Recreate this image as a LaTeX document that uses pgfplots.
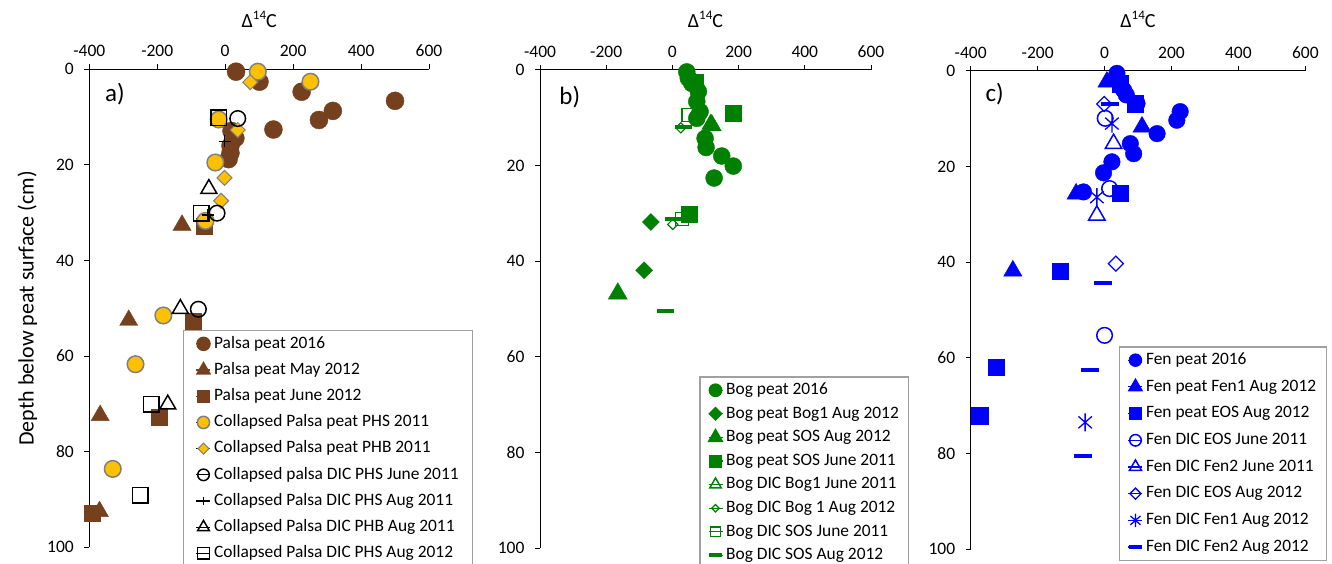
\documentclass[border=0pt]{standalone}
\usepackage{fontspec}
\setmainfont{Carlito}
\usepackage{pgfplots}
\pgfplotsset{compat=1.18}
\definecolor{brn}{RGB}{117,64,30}
\definecolor{gld}{RGB}{255,192,0}
\definecolor{grn}{RGB}{0,128,0}
\definecolor{blu}{RGB}{0,0,255}
\definecolor{lgd}{RGB}{160,160,160}

\pgfdeclareplotmark{xast}{%
  \pgfpathmoveto{\pgfqpoint{0pt}{\pgfplotmarksize}}%
  \pgfpathlineto{\pgfqpoint{0pt}{-\pgfplotmarksize}}%
  \pgfpathmoveto{\pgfqpoint{0.75\pgfplotmarksize}{0.66\pgfplotmarksize}}%
  \pgfpathlineto{\pgfqpoint{-0.75\pgfplotmarksize}{-0.66\pgfplotmarksize}}%
  \pgfpathmoveto{\pgfqpoint{-0.75\pgfplotmarksize}{0.66\pgfplotmarksize}}%
  \pgfpathlineto{\pgfqpoint{0.75\pgfplotmarksize}{-0.66\pgfplotmarksize}}%
  \pgfusepathqstroke}

\newcommand{\dtext}{Δ\raisebox{0.42em}{\fontsize{13}{14}\selectfont 14}C}

\pgfplotsset{
  panel/.style={
    scale only axis, height=478pt,
    xmin=-400, xmax=600, ymin=0, ymax=100, y dir=reverse,
    axis x line*=top, axis y line*=left,
    axis line style={line width=1pt, black},
    every tick/.style={line width=1pt, black},
    tick align=outside, major tick length=5pt,
    xtick={-400,-200,0,200,400,600},
    xticklabels={-400,-200,0,200,400,600},
    ytick={0,20,40,60,80,100},
    yticklabels={0,20,40,60,80,100},
    ticklabel style={font=\fontsize{17.5}{20}\selectfont},
    xticklabel style={yshift=4pt},
    yticklabel style={xshift=-7pt},
    clip=false,
    legend cell align=left,
    legend style={anchor=north west, draw=lgd, line width=1.2pt, fill=white,
      font=\fontsize{17.4}{20}\selectfont, inner xsep=8pt, inner ysep=5pt,
      column sep=1pt,
      nodes={inner ysep=0pt, inner xsep=2pt, text height=12.5pt, text depth=4pt}},
    legend image code/.code={%
      \path (0pt,0pt) -- (14pt,0pt);
      \draw[##1,/tikz/every mark/.append style={scale=0.74}] plot coordinates {(7pt,0pt)};},
  },
}

\begin{document}
\begin{tikzpicture}
% ---------------- panel a ----------------
\begin{axis}[panel, width=339.7pt, at={(89.3pt,494.7pt)}, anchor=north west,
  ylabel={Depth below peat surface (cm)},
  ylabel style={font=\fontsize{22}{24}\selectfont, at={(axis description cs:-0.182,0.5)}, anchor=center},
  legend style={at={(axis description cs:0.2767,0.4546)}, row sep=9.7pt, inner xsep=12pt}]
\addplot[only marks, mark=*, mark size=9pt, brn, mark options={fill=brn}] coordinates {
 (32,0.5) (101,2.6) (225,4.7) (500,6.6) (317,8.7) (276,10.6) (142,12.6)
 (18.5,12.9) (30,14.4) (15.6,16) (15.6,17.5) (10,18.8)};
\addlegendentry{Palsa peat 2016}
\addplot[only marks, mark=triangle*, mark size=10.4pt, brn, mark options={fill=brn}] coordinates {
 (-127,32.6) (-284,52.5) (-368,72.4) (-370,92.5)};
\addlegendentry{Palsa peat May 2012}
\addplot[only marks, mark=square*, mark size=8pt, brn, mark options={fill=brn}] coordinates {
 (-61,32.9) (-95,52.8) (-195,72.7) (-390,92.8)};
\addlegendentry{Palsa peat June 2012}
\addplot[only marks, mark=*, mark size=8.3pt, mark options={draw=gray, fill=gld, line width=1.5pt}] coordinates {
 (96,0.5) (251,2.6) (-19,10.5) (-29,19.5) (-58,31.7) (-182,51.5) (-264,61.7) (-331,83.6)};
\addlegendentry{Collapsed Palsa peat PHS 2011}
\addplot[only marks, mark=square*, mark size=5.3pt, mark options={rotate=45, draw=gray, fill=gld, line width=1pt}] coordinates {
 (74,2.7) (37,12.7) (-2,22.7) (-12,27.5)};
\addlegendentry{Collapsed Palsa peat PHB 2011}
\addplot[only marks, mark=o, mark size=7.8pt, black, mark options={line width=1.5pt}] coordinates {
 (37,10.3) (-24,30.1) (-79,50.2)};
\addlegendentry{Collapsed palsa DIC PHS June 2011}
\addplot[only marks, mark=+, mark size=6pt, black, mark options={line width=1.5pt}] coordinates {
 (-2,15.1) (-51,30.5)};
\addlegendentry{Collapsed Palsa DIC PHS Aug 2011}
\addplot[only marks, mark=triangle, mark size=9.2pt, black, mark options={line width=1.5pt}] coordinates {
 (-48,25) (-132,50.1) (-169,70.1)};
\addlegendentry{Collapsed Palsa DIC PHB Aug 2011}
\addplot[only marks, mark=square, mark size=7.8pt, black, mark options={line width=1.5pt}] coordinates {
 (-19,10.1) (-71,30.1) (-218,70.1) (-250,89.1)};
\addlegendentry{Collapsed Palsa DIC PHS Aug 2012}
\node[anchor=base west, font=\fontsize{25}{26}\selectfont] at (axis cs:-364,6.8) {a)};
\end{axis}
% ---------------- panel b ----------------
\begin{axis}[panel, width=331pt, at={(540pt,494pt)}, anchor=north west,
  legend style={at={(axis description cs:0.4813,0.359)}, row sep=7.1pt}]
\addplot[only marks, mark=*, mark size=8.5pt, grn, mark options={fill=grn}] coordinates {
 (43.5,0.4) (48,1.7) (58.6,2.8) (78.5,4.5) (73.7,6.6) (83.7,8.7) (73.7,10.1)
 (98.8,14.3) (101.8,16.2) (149,18) (184,20.1) (126,22.6)};
\addlegendentry{Bog peat 2016}
\addplot[only marks, mark=square*, mark size=6pt, grn, mark options={rotate=45, fill=grn}] coordinates {
 (-65,31.8) (-85.5,41.9)};
\addlegendentry{Bog peat Bog1 Aug 2012}
\addplot[only marks, mark=triangle*, mark size=11pt, grn, mark options={fill=grn}] coordinates {
 (70,3) (119,11.6) (-165,46.8)};
\addlegendentry{Bog peat SOS Aug 2012}
\addplot[only marks, mark=square*, mark size=8pt, grn, mark options={fill=grn}] coordinates {
 (70,2.6) (182.5,9.1) (51.4,30.2)};
\addlegendentry{Bog peat SOS June 2011}
\addplot[only marks, mark=triangle, mark size=9pt, grn, mark options={line width=1.5pt}] coordinates {
 (115,11.4)};
\addlegendentry{Bog DIC Bog1 June 2011}
\addplot[only marks, mark=square, mark size=3.6pt, grn, mark options={rotate=45, line width=1.2pt}] coordinates {
 (25.4,12.1) (1.2,32.3)};
\addlegendentry{Bog DIC Bog 1 Aug 2012}
\addplot[only marks, mark=square, mark size=6.5pt, grn, mark options={line width=1.3pt}] coordinates {
 (48.3,9.4) (28.4,31.1)};
\addlegendentry{Bog DIC SOS June 2011}
\addplot[only marks, mark=-, mark size=8.5pt, grn, mark options={line width=4pt}] coordinates {
 (33.2,11.9) (3,31.1) (-20,50.4)};
\addlegendentry{Bog DIC SOS Aug 2012}
\node[anchor=base west, font=\fontsize{25}{26}\selectfont] at (axis cs:-352,7.3) {b)};
\end{axis}
% ---------------- panel c ----------------
\begin{axis}[panel, width=334.6pt, at={(970.7pt,493pt)}, anchor=north west,
  legend style={at={(axis description cs:0.444,0.424)}, row sep=10.2pt}]
\addplot[only marks, mark=*, mark size=8.3pt, blu, mark options={fill=blu}] coordinates {
 (37,0.5) (42,2.2) (57,4) (65,5) (97,6.8) (226,8.5) (216,10.3) (157,13.1)
 (77,15.2) (87,17.3) (22,19) (-3,21.3) (-63,25.3)};
\addlegendentry{Fen peat 2016}
\addplot[only marks, mark=triangle*, mark size=10.5pt, blu, mark options={fill=blu}] coordinates {
 (7,2.3) (112,11.7) (-85,25.7) (-274,41.8)};
\addlegendentry{Fen peat Fen1 Aug 2012}
\addplot[only marks, mark=square*, mark size=8.3pt, blu, mark options={fill=blu}] coordinates {
 (47,2.6) (92,6.8) (47,25.6) (-132,41.9) (-324,62) (-374,72.1)};
\addlegendentry{Fen peat EOS Aug 2012}
\addplot[only marks, mark=o, mark size=7.8pt, blu, mark options={line width=1.5pt}] coordinates {
 (2,9.9) (15,24.6) (0,55.3)};
\addlegendentry{Fen DIC EOS June 2011}
\addplot[only marks, mark=triangle, mark size=9.5pt, blu, mark options={line width=1.5pt}] coordinates {
 (27,15.2) (-23,30.2)};
\addlegendentry{Fen DIC Fen2 June 2011}
\addplot[only marks, mark=square, mark size=5.3pt, blu, mark options={rotate=45, line width=1.3pt}] coordinates {
 (-1,6.9) (34,40.3)};
\addlegendentry{Fen DIC EOS Aug 2012}
\addplot[only marks, mark=xast, mark size=9pt, blu, mark options={line width=1.3pt}] coordinates {
 (22,11) (-23,26.4) (-58,73.5)};
\addlegendentry{Fen DIC Fen1 Aug 2012}
\addplot[only marks, mark=-, mark size=9pt, blu, mark options={line width=4pt}] coordinates {
 (17,7) (-5,44.3) (-43,62.5) (-63,80.6)};
\addlegendentry{Fen DIC Fen2 Aug 2012}
\node[anchor=base west, font=\fontsize{25}{26}\selectfont] at (axis cs:-366,6.3) {c)};
\end{axis}
% titles
\node[font=\fontsize{20}{21}\selectfont, anchor=base] at (259.2pt,536.5pt) {\dtext};
\node[font=\fontsize{20}{21}\selectfont, anchor=base] at (705.5pt,536.5pt) {\dtext};
\node[font=\fontsize{20}{21}\selectfont, anchor=base] at (1138pt,536.5pt) {\dtext};
\pgfresetboundingbox
\useasboundingbox (0pt,0pt) rectangle (1332pt,564pt);
\end{tikzpicture}
\end{document}
